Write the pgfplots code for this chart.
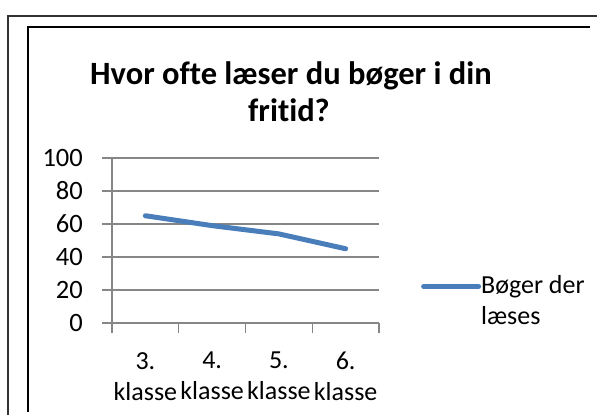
\documentclass[border=0pt]{standalone}
\usepackage{fontspec}
\setmainfont{Carlito}[Ligatures=NoCommon]
\usepackage{pgfplots}
\pgfplotsset{compat=1.18}
\definecolor{serblue}{RGB}{74,126,187}
\definecolor{gridgray}{RGB}{134,134,134}
\definecolor{framegray}{RGB}{50,50,50}
\begin{document}
\begin{tikzpicture}
\path[use as bounding box] (0bp,0bp) rectangle (597bp,415bp);
\draw[line width=2bp, framegray] (8bp,0bp) -- (8bp,399bp) -- (597bp,399bp);
\draw[line width=2bp, black] (28bp,3bp) -- (28bp,388bp) -- (590bp,388bp);
\node[anchor=base, font=\fontsize{32.5bp}{37bp}\selectfont\bfseries] at (291bp,330bp) {Hvor ofte læser du bøger i din};
\node[anchor=base, font=\fontsize{32.5bp}{37bp}\selectfont\bfseries] at (289bp,293bp) {fritid?};
\begin{axis}[
  at={(112bp,92bp)}, anchor=south west,
  scale only axis, width=267bp, height=165bp,
  xmin=0, xmax=4, ymin=0, ymax=100,
  axis x line=bottom, axis y line=left,
  axis line style={-, draw=gridgray, line width=1.2bp},
  xtick={0,1,2,3,4},
  xticklabels={{3.\\klasse},{4.\\klasse},{5.\\klasse},{6.\\klasse}},
  x tick label as interval,
  ytick={0,20,40,60,80,100},
  ymajorgrids,
  grid style={draw=gridgray, line width=1.2bp},
  tick style={draw=gridgray, line width=1.2bp},
  tick align=outside,
  major tick length=10bp,
  /pgf/number format/assume math mode=true,
  yticklabel style={font=\fontsize{26.5bp}{31bp}\selectfont, inner sep=0pt, xshift=-19bp},
  xticklabel style={font=\fontsize{26bp}{31bp}\selectfont, align=center, inner sep=0pt, yshift=-19bp},
  legend style={draw=none, fill=none, inner sep=0pt, at={(rel axis cs:1.157,0.291)}, anchor=north west,
    nodes={inner sep=0pt, align=left, font=\fontsize{26bp}{31bp}\selectfont},
    /tikz/every even column/.append style={column sep=5bp}},
  legend image code/.code={\draw[#1] (0bp,14bp) -- (55bp,14bp); \path[draw=none] (0bp,-14bp) -- (0bp,14bp);},
  clip=false,
]
\addplot[serblue, line width=5bp, line cap=round, line join=round] coordinates {(0.5,65) (1.5,59) (2.5,54) (3.5,45)};
\addlegendentry{Bøger der\\læses}
\end{axis}
\end{tikzpicture}
\end{document}
